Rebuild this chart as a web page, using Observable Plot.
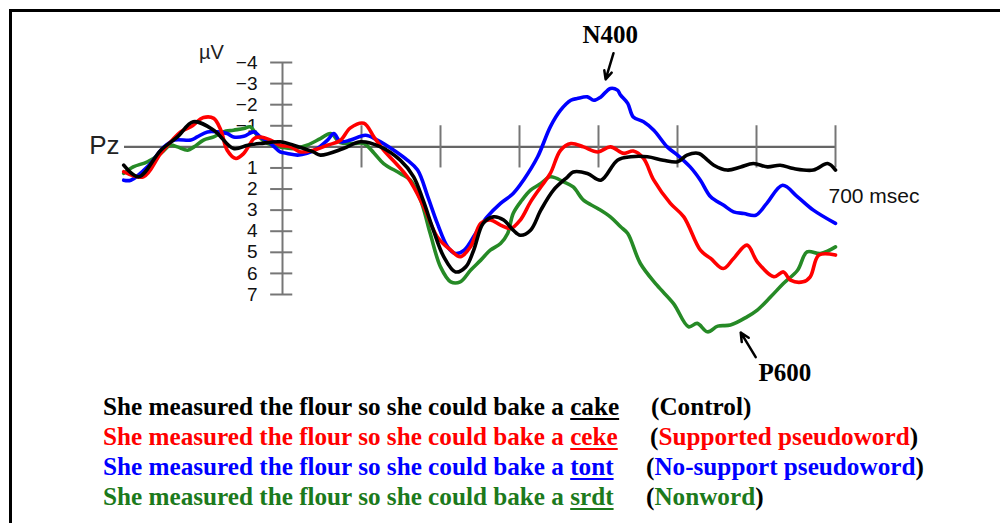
<!DOCTYPE html>
<html>
<head>
<meta charset="utf-8">
<script src="https://cdn.jsdelivr.net/npm/d3@7"></script>
<script src="https://cdn.jsdelivr.net/npm/@observablehq/plot@0.6"></script>
<style>
  html, body { margin: 0; padding: 0; background: #fff; width: 1000px; height: 523px; overflow: hidden; }
  #page { position: relative; width: 1000px; height: 523px; }
  #chart { position: absolute; left: 0; top: 0; }
  #frame { position: absolute; left: 9px; top: 9px; right: -10px; bottom: -10px;
           border-top: 3px solid #000; border-left: 3px solid #000; pointer-events: none; z-index: 5; }
  .row { position: absolute; left: 0; width: 1000px; height: 30px; line-height: 30px;
         font-family: "Liberation Serif", "Times New Roman", serif; font-weight: bold; font-size: 25.2px; white-space: nowrap; }
  .row .s { position: absolute; left: 103px; top: 0; }
  .row .p { position: absolute; top: 0; color: #000; }
  .row u { text-decoration-thickness: 2px; text-underline-offset: 3px; }
</style>
</head>
<body>
<div id="page">
  <div id="chart"></div>
  <div id="legend"></div>
  <div id="frame"></div>
</div>
<script>
// ---- data (time in ms, amplitude in µV; negative plotted up) ----
const control = [
  [-201,0.87],[-182,1.42],[-154,0.16],[-133,-0.47],[-113,-1.19],[-87,-0.79],[-62,0.08],[-44,-0.08],
  [-28,-0.16],[-3,-0.24],[14,-0.08],[39,0.24],[48,0.39],[77,0.08],[99,-0.24],[124,0],[149,0.63],
  [166,1.42],[178,2.53],[191,3.95],[204,5.2],[219,5.93],[232,5.69],[242,4.9],[254,3.63],[267,3.32],
  [280,3.47],[292,3.95],[301,4.19],[314,3.95],[327,3.0],[343,2.05],[361,1.42],[368,1.19],[386,1.26],
  [403,1.58],[424,0.63],[441,0.47],[462,0.47],[482,0.63],[500,0.71],[512,0.39],[527,0.31],[538,0.63],
  [546,0.87],[563,1.1],[580,0.95],[596,0.79],[614,0.95],[630,0.87],[647,1.03],[672,1.1],[690,0.79],[700,1.1]
];
const supported = [
  [-201,1.18],[-176,1.42],[-154,0.31],[-129,-0.71],[-116,-0.95],[-100,-1.39],[-87,-1.35],[-78,-0.79],
  [-70,0.16],[-59,0.55],[-49,0.31],[-36,-0.39],[-28,-0.47],[-15,-0.32],[-3,-0.08],[10,0],[23,0.24],
  [39,0.16],[57,-0.08],[73,-0.3],[86,-0.9],[103,-1.12],[116,-0.45],[128,0.15],[158,1.42],[179,2.85],
  [196,4.27],[213,4.9],[225,5.21],[238,4.74],[251,3.63],[263,3.47],[276,3.71],[289,3.87],[301,3.47],
  [314,2.61],[327,1.9],[339,1.26],[352,0.16],[365,-0.16],[381,0],[399,0.24],[415,0],[432,0.31],
  [444,0.2],[457,0.55],[470,1.58],[491,2.68],[508,3.32],[529,4.9],[542,5.29],[558,5.77],[571,5.29],
  [588,4.66],[601,5.45],[622,6.16],[634,5.93],[643,6.32],[659,6.4],[668,6.16],[679,5.13],[700,5.13]
];
const noSupport = [
  [-201,1.58],[-192,1.58],[-171,0.95],[-150,0],[-137,-0.32],[-116,-0.32],[-108,-0.47],[-95,-0.71],
  [-82,-0.71],[-70,-0.63],[-62,-0.47],[-49,-0.5],[-36,-0.71],[-28,-0.47],[-15,-0.16],[-3,0.24],[6,0.31],
  [19,0.39],[31,0.31],[44,0.08],[57,-0.32],[65,-0.63],[73,-0.25],[86,-0.32],[105,-0.55],[120,-0.32],
  [141,0.16],[158,0.63],[171,1.1],[184,2.37],[196,3.63],[209,4.74],[219,5.06],[230,4.9],[247,3.95],
  [259,3.32],[276,2.68],[292,2.21],[305,1.58],[323,0.47],[339,-0.95],[352,-1.74],[365,-2.21],[373,-2.29],
  [386,-2.37],[394,-2.21],[403,-2.37],[415,-2.77],[424,-2.69],[428,-2.45],[437,-2.06],[444,-1.42],
  [457,-1.19],[470,-0.79],[487,0],[500,0.39],[516,0.95],[529,1.58],[542,2.37],[558,2.76],[571,3.08],
  [584,3.16],[599,3.24],[613,2.68],[633,1.82],[652,2.37],[672,3.0],[700,3.63]
];
const nonword = [
  [-201,1.26],[-189,0.95],[-171,0.71],[-154,0.31],[-142,-0.08],[-133,0],[-120,0.16],[-112,0],[-100,-0.32],
  [-87,-0.47],[-75,-0.71],[-62,-0.79],[-49,-0.87],[-41,-0.95],[-32,-0.55],[-19,-0.16],[-3,0],[14,0.08],
  [31,-0.08],[48,-0.39],[61,-0.63],[73,-0.2],[90,-0.16],[103,-0.16],[116,0.3],[128,0.79],[149,1.26],
  [162,1.58],[175,2.53],[187,4.11],[200,5.69],[213,6.4],[225,6.4],[238,5.85],[251,5.37],[263,4.9],
  [276,4.58],[285,4.11],[292,3.16],[303,2.53],[314,2.05],[327,1.74],[339,1.42],[356,1.66],[368,1.9],
  [381,2.53],[399,2.92],[415,3.32],[428,3.79],[437,4.11],[453,5.53],[474,6.56],[495,7.43],[514,8.53],
  [525,8.37],[538,8.77],[551,8.5],[567,8.45],[588,8.06],[601,7.74],[618,7.11],[634,6.48],[652,5.85],
  [664,4.98],[681,5.06],[700,4.74]
];
const seriesNames = ["Nonword", "No-support pseudoword", "Supported pseudoword", "Control"];
const seriesColors = ["#268a26", "#0000ff", "#ff0000", "#000000"];
const seriesData = [nonword, noSupport, supported, control];

const timeDomain = [-200, 700];
const ampDomain = [-4, 7];
const xTicks = [100, 200, 300, 400, 500, 600, 700];
const yTicks = [-4, -3, -2, -1, 1, 2, 3, 4, 5, 6, 7];
const yTickLabels = ["−4", "−3", "−2", "−1", "1", "2", "3", "4", "5", "6", "7"];

const annotations = [
  {label: "N400", x: 415, y: -5.3, ax1: 419, ay1: -4.44, ax2: 409, ay2: -3.2},
  {label: "P600", x: 636, y: 10.7, ax1: 599, ay1: 9.97, ax2: 580, ay2: 8.8}
];

const sentenceStart = "She measured the flour so she could bake a ";
const targetWords = ["cake", "ceke", "tont", "srdt"];
const conditionLabels = ["Control", "Supported pseudoword", "No-support pseudoword", "Nonword"];
const textColors = ["#000000", "#ff0000", "#0000ff", "#1c7a1c"];

// ---- build ----
const rows = [];
seriesData.forEach((arr, i) => arr.forEach(([t, v]) => rows.push({t, v, cond: seriesNames[i]})));

const axisColor = "#767676";
const chart = Plot.plot({
  width: 1000,
  height: 385,
  margin: 0,
  x: {domain: timeDomain, range: [124, 835], axis: null},
  y: {domain: ampDomain, range: [62, 294], axis: null},
  color: {domain: seriesNames, range: seriesColors},
  marks: [
    Plot.text(yTicks, {x: 0, y: d => d, text: (d, i) => yTickLabels[i], dx: -25, textAnchor: "end",
      fontFamily: "Liberation Sans, Arial, sans-serif", fontSize: 19, fill: "#111"}),
    Plot.ruleY([0], {x1: timeDomain[0], x2: timeDomain[1], stroke: "#666", strokeWidth: 2.4}),
    Plot.ruleX([0], {y1: ampDomain[0], y2: ampDomain[1], stroke: axisColor, strokeWidth: 2}),
    Plot.ruleY(yTicks, {x1: -15, x2: 13, stroke: axisColor, strokeWidth: 2}),
    Plot.ruleX(xTicks, {y1: -1, y2: 1, stroke: axisColor, strokeWidth: 2}),
    Plot.text(["Pz"], {x: timeDomain[0], y: 0, dx: -5, dy: -1, textAnchor: "end",
      fontFamily: "Liberation Sans, Arial, sans-serif", fontSize: 26, fill: "#222"}),
    Plot.text(["µV"], {x: 0, y: ampDomain[0], dx: -71, dy: -10, textAnchor: "middle",
      fontFamily: "Liberation Sans, Arial, sans-serif", fontSize: 20, fill: "#222"}),
    Plot.text(["700 msec"], {x: timeDomain[1], y: 0, dx: -7, dy: 49, textAnchor: "start",
      fontFamily: "Liberation Sans, Arial, sans-serif", fontSize: 21, fill: "#111"}),
    Plot.line(rows, {x: "t", y: "v", z: "cond", stroke: "cond", strokeWidth: 3.6, curve: "catmull-rom"}),
    Plot.text(annotations, {x: "x", y: "y", text: "label", textAnchor: "middle",
      fontFamily: "Liberation Serif, Times New Roman, serif", fontWeight: "bold", fontSize: 25, fill: "#000"}),
    Plot.arrow(annotations, {x1: "ax1", y1: "ay1", x2: "ax2", y2: "ay2", stroke: "#000",
      strokeWidth: 2.5, headLength: 10, headAngle: 50})
  ]
});
document.getElementById("chart").appendChild(chart);

const legend = document.getElementById("legend");
const parenLeft = [651, 650, 646, 646];
targetWords.forEach((w, i) => {
  const row = document.createElement("div");
  row.className = "row";
  row.style.top = (392 + 30 * i) + "px";
  row.style.color = textColors[i];
  const s = document.createElement("span");
  s.className = "s";
  s.appendChild(document.createTextNode(sentenceStart));
  const u = document.createElement("u");
  u.textContent = w;
  s.appendChild(u);
  row.appendChild(s);
  const p = document.createElement("span");
  p.className = "p";
  p.style.left = parenLeft[i] + "px";
  p.appendChild(document.createTextNode("("));
  const c = document.createElement("span");
  c.style.color = textColors[i];
  c.textContent = conditionLabels[i];
  p.appendChild(c);
  p.appendChild(document.createTextNode(")"));
  row.appendChild(p);
  legend.appendChild(row);
});
</script>
</body>
</html>
